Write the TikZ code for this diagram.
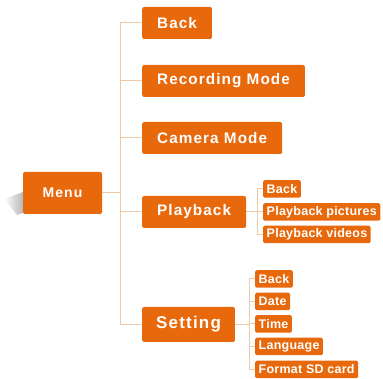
\documentclass[tikz,border=0pt]{standalone}
\usepackage{fontspec}
\setmainfont{Liberation Sans}
\usetikzlibrary{positioning}
\definecolor{menuorange}{HTML}{E8680C}
\definecolor{branchtan}{HTML}{EDC9A6}

\tikzset{
  mainbox/.style={fill=menuorange, text=white, rounded corners=2pt, anchor=west,
    minimum height=32pt, inner xsep=15pt, inner ysep=0pt,
    font=\fontsize{15.3}{15}\selectfont\bfseries\addfontfeatures{LetterSpace=7}},
  subbox/.style={fill=menuorange, text=white, rounded corners=1.5pt, anchor=west,
    minimum height=17.5pt, inner xsep=3.5pt, inner ysep=0pt,
    font=\fontsize{12.5}{12.5}\selectfont\bfseries\addfontfeatures{LetterSpace=2}},
  branch/.style={draw=branchtan, line width=1pt}
}

\begin{document}
\begin{tikzpicture}[x=1pt, y=-1pt]
  \useasboundingbox (0,0) rectangle (383,379);

  %% Root with its shadow
  \shade[left color=white, right color=gray!70, opacity=0.8]
    (4,199) -- (23,192) -- (23,213) -- (17,215) -- cycle;
  \node[mainbox, minimum width=79pt, minimum height=42pt, anchor=center,
    font=\fontsize{14}{14}\selectfont\bfseries\addfontfeatures{LetterSpace=8}]
    (menu) at (62.5,193) {Menu};

  %% First level
  \node[mainbox] (back)     at (142,23)  {Back};
  \node[mainbox] (record)   at (142,81)  {Recording Mode};
  \node[mainbox] (camera)   at (142,138) {Camera Mode};
  \node[mainbox] (playback) at (142,212) {Playback};
  \node[mainbox, minimum height=35pt, inner xsep=14pt,
    font=\fontsize{17}{17}\selectfont\bfseries\addfontfeatures{LetterSpace=7}]
    (setting) at (142,324.5) {Setting};

  %% Playback items
  \node[subbox] (pbback)   at (263,189) {Back};
  \node[subbox] (pbpics)   at (263,212) {Playback pictures};
  \node[subbox] (pbvideos) at (263,234.5) {Playback videos};

  %% Setting items
  \node[subbox] (stback) at (255,279) {Back};
  \node[subbox] (stdate) at (255,301.5) {Date};
  \node[subbox] (sttime) at (255,324) {Time};
  \node[subbox] (stlang) at (255,346.5) {Language};
  \node[subbox] (stsd)   at (255,369.5) {Format SD card};

  %% Branch lines
  \coordinate (trunk) at (120,193);
  \coordinate (pbtrunk) at (257,212);
  \coordinate (sttrunk) at (249,324.5);

  \draw[branch] (menu.east) -- (trunk);
  \draw[branch] (trunk |- back.west) -- (trunk |- setting.west);
  \foreach \n in {back,record,camera,playback,setting}
    \draw[branch] (trunk |- \n.west) -- (\n.west);

  \draw[branch] (playback.east) -- (pbtrunk);
  \draw[branch] (pbtrunk |- pbback.west) -- (pbtrunk |- pbvideos.west);
  \foreach \n in {pbback,pbpics,pbvideos}
    \draw[branch] (pbtrunk |- \n.west) -- (\n.west);

  \draw[branch] (setting.east) -- (sttrunk);
  \draw[branch] (sttrunk |- stback.west) -- (sttrunk |- stsd.west);
  \foreach \n in {stback,stdate,sttime,stlang,stsd}
    \draw[branch] (sttrunk |- \n.west) -- (\n.west);
\end{tikzpicture}
\end{document}
